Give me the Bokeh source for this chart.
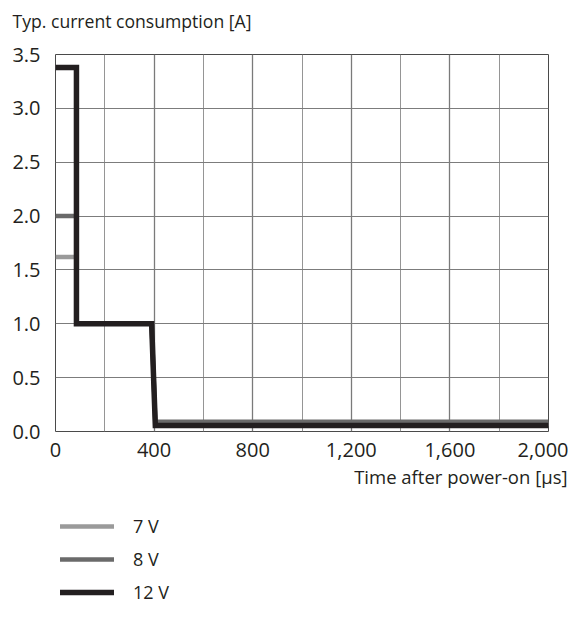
from bokeh.plotting import figure
from bokeh.layouts import column
from bokeh.models import FixedTicker, Legend, LegendItem, Range1d, NumeralTickFormatter
from bokeh.embed import file_html
from bokeh.resources import INLINE

# data
t_7 = [0, 85, 85, 390, 405, 2000]
i_7 = [1.62, 1.62, 1.0, 1.0, 0.07, 0.07]
t_8 = [0, 85, 85, 390, 405, 2000]
i_8 = [2.0, 2.0, 1.0, 1.0, 0.09, 0.09]
t_12 = [0, 85, 85, 390, 405, 2000]
i_12 = [3.38, 3.38, 1.0, 1.0, 0.055, 0.055]
x_ticks = [0, 400, 800, 1200, 1600, 2000]
x_minor = [200, 600, 1000, 1400, 1800]
y_ticks = [0.0, 0.5, 1.0, 1.5, 2.0, 2.5, 3.0, 3.5]
labels = ["7 V", "8 V", "12 V"]
colors = ["#9a9a9a", "#6a6a6a", "#231f20"]
widths = [4.5, 4.5, 5.5]
title_text = "Typ. current consumption [A]"
xlabel_text = "Time after power-on [µs]"

FONT = "Open Sans"
TXT = "#231f20"
W = 568
BL, BR = 55, 20          # frame borders (aligned across the column)
H_TOP = 40
H_MAIN = 14 + 377 + 32
H_BOT = 604 - H_TOP - H_MAIN
series = [(t_7, i_7), (t_8, i_8), (t_12, i_12)]


def strip(h, title, align, offset, standoff, valign):
    f = figure(width=W, height=h, output_backend="svg", toolbar_location=None,
               x_range=Range1d(0, 1), y_range=Range1d(-2, -1),
               x_axis_type=None, y_axis_type=None, title=title,
               min_border_left=BL, min_border_right=BR,
               min_border_top=0, min_border_bottom=0)
    f.outline_line_color = None
    f.grid.visible = False
    f.background_fill_color = "white"
    f.border_fill_color = "white"
    f.title.align = align
    f.title.offset = offset
    f.title.standoff = standoff
    f.title.vertical_align = valign
    f.title.text_font = FONT
    f.title.text_font_style = "normal"
    f.title.text_color = TXT
    return f


# title strip
p_top = strip(H_TOP, title_text, "left", 12 - BL, 13, "bottom")
p_top.title.text_font_size = "17.6px"

# main chart
p = figure(width=W, height=H_MAIN, output_backend="svg", toolbar_location=None,
           x_range=Range1d(0, 2000), y_range=Range1d(0, 3.5),
           min_border_left=BL, min_border_right=BR, min_border_top=14,
           min_border_bottom=32)
p.background_fill_color = "white"
p.border_fill_color = "white"
p.outline_line_color = "#4a4a4a"
p.outline_line_width = 1

p.xaxis.ticker = FixedTicker(ticks=x_ticks)
p.yaxis.ticker = FixedTicker(ticks=y_ticks)
p.xaxis.formatter = NumeralTickFormatter(format="0,0")
p.yaxis.formatter = NumeralTickFormatter(format="0.0")
for ax in (p.xaxis, p.yaxis):
    ax.major_tick_line_color = None
    ax.minor_tick_line_color = None
    ax.axis_line_color = None
    ax.major_label_text_font = FONT
    ax.major_label_text_font_size = "20px"
    ax.major_label_text_color = TXT
p.xaxis.major_label_standoff = 5
p.yaxis.major_label_standoff = 9

p.xgrid.ticker = FixedTicker(ticks=x_ticks, minor_ticks=x_minor)
p.ygrid.ticker = FixedTicker(ticks=y_ticks)
p.xgrid.grid_line_color = "#7a7a7a"
p.xgrid.grid_line_width = 1.3
p.xgrid.minor_grid_line_color = "#959595"
p.xgrid.minor_grid_line_width = 1
p.ygrid.grid_line_color = "#7c7c7c"
p.ygrid.grid_line_width = 1

for (tx, iy), c, w in zip(series, colors, widths):
    p.line(tx, iy, line_color=c, line_width=w, line_join="miter", line_cap="butt")

# bottom strip: x label (as strip title) + legend
p_bot = strip(H_BOT, xlabel_text, "right", -19, 0, "top")
p_bot.title.text_font_size = "18.5px"
items = []
for (tx, iy), lab, c, w in zip(series, labels, colors, widths):
    # same series drawn outside this strip's ranges: only its legend glyph shows
    r = p_bot.line(tx, iy, line_color=c, line_width=w, line_cap="round")
    items.append(LegendItem(label=lab, renderers=[r]))
legend = Legend(items=items, location=(5, 0), orientation="vertical",
                glyph_width=54, glyph_height=24, label_height=24, spacing=9,
                label_standoff=19, padding=0, margin=0,
                border_line_color=None, background_fill_alpha=0,
                label_text_font=FONT, label_text_font_size="18px", label_text_color=TXT)
p_bot.add_layout(legend, "center")

layout = column(p_top, p, p_bot, spacing=0)
open("out.html", "w").write(file_html(layout, INLINE))
